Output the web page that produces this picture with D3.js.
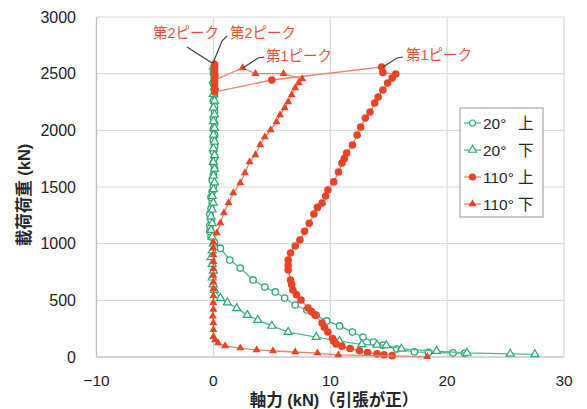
<!DOCTYPE html>
<html>
<head>
<meta charset="utf-8">
<script src="https://cdn.jsdelivr.net/npm/d3@7"></script>
<style>
  body { margin: 0; background: #fff; }
  text { font-family: "Liberation Sans", "Noto Sans CJK JP", sans-serif; }
</style>
</head>
<body>
<div id="chart"></div>
<script>
// axis ticks
const xTicks = [-10, 0, 10, 20, 30];
const yTicks = [0, 500, 1000, 1500, 2000, 2500, 3000];

// [axial force kN, load kN]
const s20Up = [
  [21.5, 32], [20.5, 36], [18.4, 40], [17.2, 46], [15.7, 70], [14.5, 104], [13.7, 132],
  [12.8, 176], [11.9, 220], [10.8, 274], [9.7, 318], [8.8, 370], [8.0, 415], [7.0, 459],
  [6.1, 520], [5.3, 574], [4.4, 617], [3.4, 680], [2.3, 785], [1.4, 855], [0.6, 960],
  [0.1, 1010], [-0.2, 1060], [-0.3, 1110], [-0.3, 1160], [-0.2, 1210], [-0.3, 1260],
  [-0.2, 1310], [-0.1, 1360], [-0.2, 1410], [-0.1, 1460], [0.0, 1510], [-0.1, 1560],
  [0.0, 1610], [0.1, 1660], [0.0, 1710], [0.1, 1760], [0.0, 1810], [0.1, 1860],
  [0.0, 1910], [0.1, 1960], [0.0, 2010], [0.1, 2060], [0.0, 2110], [0.1, 2160],
  [0.1, 2210], [0.0, 2260], [0.1, 2310], [0.1, 2360], [0.0, 2410], [0.1, 2460],
  [0.0, 2510], [0.1, 2560]
];
const s20Down = [
  [27.5, 24], [25.4, 28], [21.7, 36], [19.1, 52], [16.1, 72], [14.8, 102], [14.0, 108],
  [12.7, 112], [10.8, 140], [8.8, 176], [6.4, 220], [5.0, 274], [3.8, 326], [2.9, 370],
  [2.0, 430], [1.2, 480], [0.6, 520], [0.1, 590], [0.0, 640], [-0.1, 700], [0.0, 760],
  [-0.1, 820], [-0.2, 880], [-0.1, 940], [0.0, 1000], [-0.1, 1060], [-0.2, 1120],
  [-0.1, 1180], [-0.2, 1240], [-0.1, 1300], [0.0, 1360], [-0.1, 1420], [0.0, 1480],
  [0.1, 1540], [0.0, 1600], [0.1, 1660], [0.0, 1720], [0.1, 1780], [0.0, 1840],
  [0.1, 1900], [0.0, 1960], [0.1, 2020], [0.0, 2080], [0.1, 2140], [0.0, 2200],
  [0.1, 2260], [0.0, 2320], [0.1, 2380], [0.0, 2440], [0.1, 2500], [0.0, 2560]
];
const s110Up = [
  [15.3, 12], [14.6, 20], [14.0, 28], [13.2, 40], [12.5, 55], [11.7, 75], [11.0, 95],
  [10.5, 115], [10.3, 140], [10.2, 162], [9.8, 220], [9.5, 262], [9.3, 300], [8.7, 370],
  [8.4, 400], [8.1, 432], [7.5, 503], [7.1, 550], [6.8, 591], [6.7, 640], [6.6, 680],
  [6.4, 768], [6.4, 810], [6.4, 856], [6.6, 918], [7.0, 980], [7.4, 1032], [7.8, 1110],
  [8.2, 1180], [8.6, 1262], [8.9, 1320], [9.3, 1359], [9.6, 1420], [9.8, 1474],
  [10.3, 1545], [10.7, 1633], [11.0, 1712], [11.2, 1750], [11.4, 1800], [11.9, 1871],
  [12.3, 1959], [12.6, 2030], [13.0, 2109], [13.4, 2162], [13.8, 2241], [14.1, 2294],
  [14.5, 2356], [14.9, 2418], [15.3, 2462], [15.6, 2497], [14.5, 2510], [14.4, 2559],
  [5.0, 2444], [0.1, 2339], [0.1, 2370], [0.1, 2400], [0.1, 2430], [0.1, 2460],
  [0.1, 2490], [0.1, 2520], [0.1, 2550], [0.1, 2580]
];
const s110Down = [
  [18.3, 3], [10.7, 18], [8.9, 35], [7.0, 44], [5.1, 53], [3.7, 62], [2.3, 79], [1.0, 97],
  [0.4, 124], [0.15, 150], [0.0, 180], [0.0, 240], [0.0, 300], [-0.05, 360], [0.0, 420],
  [0.0, 480], [0.0, 540], [0.0, 600], [0.0, 660], [0.0, 720], [0.0, 780], [0.0, 840],
  [0.0, 900], [0.0, 960], [0.0, 1010], [0.3, 1094], [0.6, 1182], [0.9, 1271], [1.3, 1360],
  [1.7, 1447], [2.3, 1536], [2.7, 1624], [3.1, 1721], [3.6, 1783], [4.0, 1871],
  [4.4, 1941], [4.9, 2003], [5.4, 2074], [5.7, 2136], [6.1, 2197], [6.4, 2250],
  [6.7, 2312], [7.0, 2374], [7.3, 2418], [7.6, 2453], [6.0, 2500], [3.6, 2500],
  [2.5, 2550], [0.1, 2444], [0.1, 2480], [0.1, 2520], [0.1, 2560], [0.1, 2590]
];

const legendLabels = [["20°", "上"], ["20°", "下"], ["110°", "上"], ["110°", "下"]];

const width = 587, height = 409;
const x = d3.scaleLinear().domain([-10, 30]).range([96.5, 564]);
const y = d3.scaleLinear().domain([0, 3000]).range([357, 17]);

const svg = d3.select("#chart").append("svg")
  .attr("width", width).attr("height", height);

const green = "#2ea873", greenLine = "#4dbb8c";
const red = "#ea4328", redLine = "#f2806f";

// grid
svg.append("g").selectAll("line").data(yTicks).join("line")
  .attr("x1", x(-10)).attr("x2", x(30))
  .attr("y1", d => y(d)).attr("y2", d => y(d))
  .attr("stroke", "#d9d9d9").attr("stroke-width", 1.2);
svg.append("g").selectAll("line").data(xTicks).join("line")
  .attr("y1", y(0)).attr("y2", y(3000))
  .attr("x1", d => x(d)).attr("x2", d => x(d))
  .attr("stroke", "#d9d9d9").attr("stroke-width", 1.2);
svg.append("line").attr("x1", x(-10)).attr("x2", x(-10)).attr("y1", y(0)).attr("y2", y(3000))
  .attr("stroke", "#bdbdbd").attr("stroke-width", 1.2);
svg.append("line").attr("x1", x(-10)).attr("x2", x(30)).attr("y1", y(0)).attr("y2", y(0))
  .attr("stroke", "#bdbdbd").attr("stroke-width", 1.2);

// tick labels
svg.append("g").selectAll("text").data(yTicks).join("text")
  .attr("x", 76).attr("y", d => y(d)).attr("dy", "0.36em")
  .attr("text-anchor", "end").attr("font-size", 16).attr("fill", "#222")
  .text(d => d);
svg.append("g").selectAll("text").data(xTicks).join("text")
  .attr("x", d => x(d)).attr("y", 380).attr("dy", "0.36em")
  .attr("text-anchor", "middle").attr("font-size", 15.5).attr("fill", "#222")
  .text(d => d < 0 ? "\u2212" + Math.abs(d) : d);

// axis titles
svg.append("text").attr("x", 334).attr("y", 400).attr("dy", "0.36em")
  .attr("text-anchor", "middle").attr("font-size", 16.5).attr("font-weight", "bold")
  .attr("fill", "#262626").text("軸力 (kN)（引張が正）");
svg.append("text").attr("transform", "translate(24,195) rotate(-90)").attr("dy", "0.36em")
  .attr("text-anchor", "middle").attr("font-size", 16.5).attr("font-weight", "bold")
  .attr("fill", "#262626").text("載荷荷重 (kN)");

const line = d3.line().x(d => x(d[0])).y(d => y(d[1]));
const tri = d3.symbol().type(d3.symbolTriangle).size(28);

function drawSeries(data, lineColor, markColor, kind) {
  const g = svg.append("g");
  g.append("path").datum(data).attr("d", line)
    .attr("fill", "none").attr("stroke", lineColor).attr("stroke-width", 1.3);
  if (kind === "circleOpen") {
    g.selectAll("circle").data(data).join("circle")
      .attr("cx", d => x(d[0])).attr("cy", d => y(d[1])).attr("r", 3.2)
      .attr("fill", "#fff").attr("stroke", markColor).attr("stroke-width", 1.3);
  } else if (kind === "triOpen") {
    g.selectAll("path.m").data(data).join("path").attr("class", "m")
      .attr("d", tri).attr("transform", d => `translate(${x(d[0])},${y(d[1])})`)
      .attr("fill", "#fff").attr("stroke", markColor).attr("stroke-width", 1.2);
  } else if (kind === "circle") {
    g.selectAll("circle").data(data).join("circle")
      .attr("cx", d => x(d[0])).attr("cy", d => y(d[1])).attr("r", 3.8)
      .attr("fill", markColor);
  } else {
    g.selectAll("path.m").data(data).join("path").attr("class", "m")
      .attr("d", tri).attr("transform", d => `translate(${x(d[0])},${y(d[1])})`)
      .attr("fill", markColor);
  }
}

drawSeries(s20Up, greenLine, green, "circleOpen");
drawSeries(s20Down, greenLine, green, "triOpen");
drawSeries(s110Up, redLine, red, "circle");
drawSeries(s110Down, redLine, red, "tri");

// peak annotations
const notes = [
  { text: "第2ピーク", tx: 153, ty: 33, pts: [[187, 47], [212, 63]] },
  { text: "第2ピーク", tx: 230, ty: 33, pts: [[227, 36], [222, 41], [213, 63]] },
  { text: "第1ピーク", tx: 266, ty: 56, pts: [[243, 68], [258, 58], [264, 57]] },
  { text: "第1ピーク", tx: 406, ty: 55, pts: [[383, 67], [397, 58], [403, 57]] }
];
notes.forEach(n => {
  svg.append("path").attr("d", d3.line()(n.pts))
    .attr("fill", "none").attr("stroke", "#404040").attr("stroke-width", 1.2);
  svg.append("text").attr("x", n.tx).attr("y", n.ty).attr("dy", "0.36em")
    .attr("font-size", 14.5).attr("fill", "#ef4f36").text(n.text);
});

// legend
const lg = svg.append("g");
lg.append("rect").attr("x", 460).attr("y", 108).attr("width", 83).attr("height", 109)
  .attr("fill", "#fff").attr("stroke", "#a6a6a6").attr("stroke-width", 1.2);
const legendKinds = [
  [greenLine, green, "circleOpen"], [greenLine, green, "triOpen"],
  [redLine, red, "circle"], [redLine, red, "tri"]
];
legendLabels.forEach((lab, i) => {
  const cy = 123 + i * 27;
  const [lc, mc, kind] = legendKinds[i];
  lg.append("line").attr("x1", 464).attr("x2", 481).attr("y1", cy).attr("y2", cy)
    .attr("stroke", lc).attr("stroke-width", 1.3);
  if (kind === "circleOpen") {
    lg.append("circle").attr("cx", 472.5).attr("cy", cy).attr("r", 3)
      .attr("fill", "#fff").attr("stroke", mc).attr("stroke-width", 1.2);
  } else if (kind === "triOpen") {
    lg.append("path").attr("d", tri).attr("transform", `translate(472.5,${cy})`)
      .attr("fill", "#fff").attr("stroke", mc).attr("stroke-width", 1.1);
  } else if (kind === "circle") {
    lg.append("circle").attr("cx", 472.5).attr("cy", cy).attr("r", 3.6).attr("fill", mc);
  } else {
    lg.append("path").attr("d", tri).attr("transform", `translate(472.5,${cy})`).attr("fill", mc);
  }
  lg.append("text").attr("x", 483).attr("y", cy).attr("dy", "0.36em")
    .attr("font-size", 15.5).attr("fill", "#262626").text(lab[0]);
  lg.append("text").attr("x", 518).attr("y", cy).attr("dy", "0.36em")
    .attr("font-size", 15.5).attr("fill", "#262626").text(lab[1]);
});
</script>
</body>
</html>
